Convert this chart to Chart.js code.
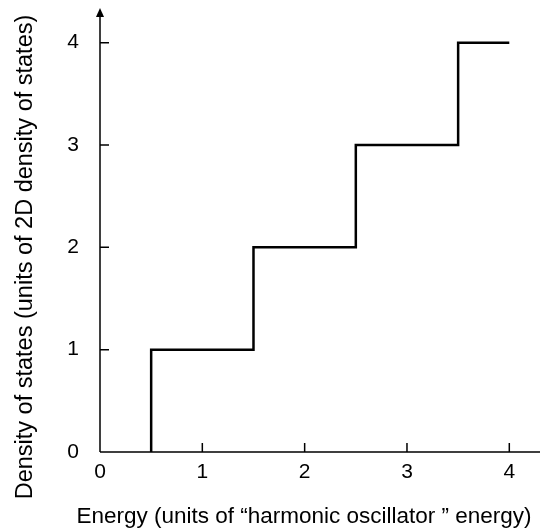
<!DOCTYPE html>
<html>
<head>
<meta charset="utf-8">
<script src="https://cdn.jsdelivr.net/npm/chart.js@4"></script>
<style>
  html, body { margin: 0; padding: 0; background: #fff; }
  #wrap { position: relative; width: 540px; height: 531px; }
</style>
</head>
<body>
<div id="wrap"><canvas id="dos"></canvas></div>
<script>
// step function: density of states vs energy
const energy = [0.5, 0.5, 1.5, 1.5, 2.5, 2.5, 3.5, 3.5, 4.0];
const density = [0, 1, 1, 2, 2, 3, 3, 4, 4];
const xTicks = [0, 1, 2, 3, 4];
const yTicks = [0, 1, 2, 3, 4];
const xTitle = "Energy (units of “harmonic oscillator ” energy)";
const yTitle = "Density of states (units of 2D density of states)";

const FONT = "'Liberation Sans', Arial, sans-serif";

// axis lines, inward tick marks, the arrow on the y axis and the axis titles
const axesPlugin = {
  id: "axes",
  afterDraw(chart) {
    const { ctx, chartArea, scales } = chart;
    const x = scales.x, y = scales.y;
    const x0 = x.getPixelForValue(0);
    const y0 = y.getPixelForValue(0);
    ctx.save();
    ctx.strokeStyle = "#000";
    ctx.fillStyle = "#000";
    ctx.lineWidth = 1.5;
    ctx.beginPath();
    ctx.moveTo(x0, y0);
    ctx.lineTo(chartArea.right, y0);
    ctx.moveTo(x0, y0);
    ctx.lineTo(x0, chartArea.top);
    xTicks.forEach((v) => {
      const px = x.getPixelForValue(v);
      ctx.moveTo(px, y0);
      ctx.lineTo(px, y0 - 9);
    });
    yTicks.forEach((v) => {
      const py = y.getPixelForValue(v);
      ctx.moveTo(x0, py);
      ctx.lineTo(x0 + 9, py);
    });
    ctx.stroke();
    // arrow head
    ctx.beginPath();
    ctx.moveTo(x0, chartArea.top - 4);
    ctx.lineTo(x0 - 4, chartArea.top + 5);
    ctx.lineTo(x0 + 4, chartArea.top + 5);
    ctx.closePath();
    ctx.fill();

    // titles (placed like the original, not centred on the plot area)
    ctx.textAlign = "center";
    ctx.textBaseline = "alphabetic";
    ctx.font = "22.5px " + FONT;
    ctx.fillText(xTitle, 304, 523);
    ctx.font = "23.5px " + FONT;
    ctx.translate(32, 257);
    ctx.rotate(-Math.PI / 2);
    ctx.fillText(yTitle, 0, 0);
    ctx.restore();
  },
};

new Chart(document.getElementById("dos"), {
  type: "line",
  data: {
    datasets: [
      {
        data: energy.map((e, i) => ({ x: e, y: density[i] })),
        borderColor: "#000",
        borderWidth: 2.5,
        pointRadius: 0,
        fill: false,
        tension: 0,
      },
    ],
  },
  options: {
    responsive: true,
    maintainAspectRatio: false,
    animation: false,
    layout: { padding: { top: 12, right: 0, left: 0, bottom: 0 } },
    plugins: { legend: { display: false }, tooltip: { enabled: false } },
    scales: {
      x: {
        type: "linear",
        min: 0,
        max: 4.3,
        grid: { display: false, drawTicks: false },
        border: { display: false },
        afterBuildTicks: (s) => { s.ticks = xTicks.map((v) => ({ value: v })); },
        afterFit: (s) => {
          s.height = 79;
          s.paddingLeft = 0;
          s.paddingRight = 0;
        },
        ticks: { color: "#000", padding: 8, font: { family: FONT, size: 21 } },
      },
      y: {
        type: "linear",
        min: 0,
        max: 4.3,
        grid: { display: false, drawTicks: false },
        border: { display: false },
        afterBuildTicks: (s) => { s.ticks = yTicks.map((v) => ({ value: v })); },
        afterFit: (s) => {
          s.width = 100;
          s.paddingTop = 0;
          s.paddingBottom = 0;
        },
        ticks: { color: "#000", padding: 21, font: { family: FONT, size: 21 } },
      },
    },
  },
  plugins: [axesPlugin],
});
</script>
</body>
</html>
